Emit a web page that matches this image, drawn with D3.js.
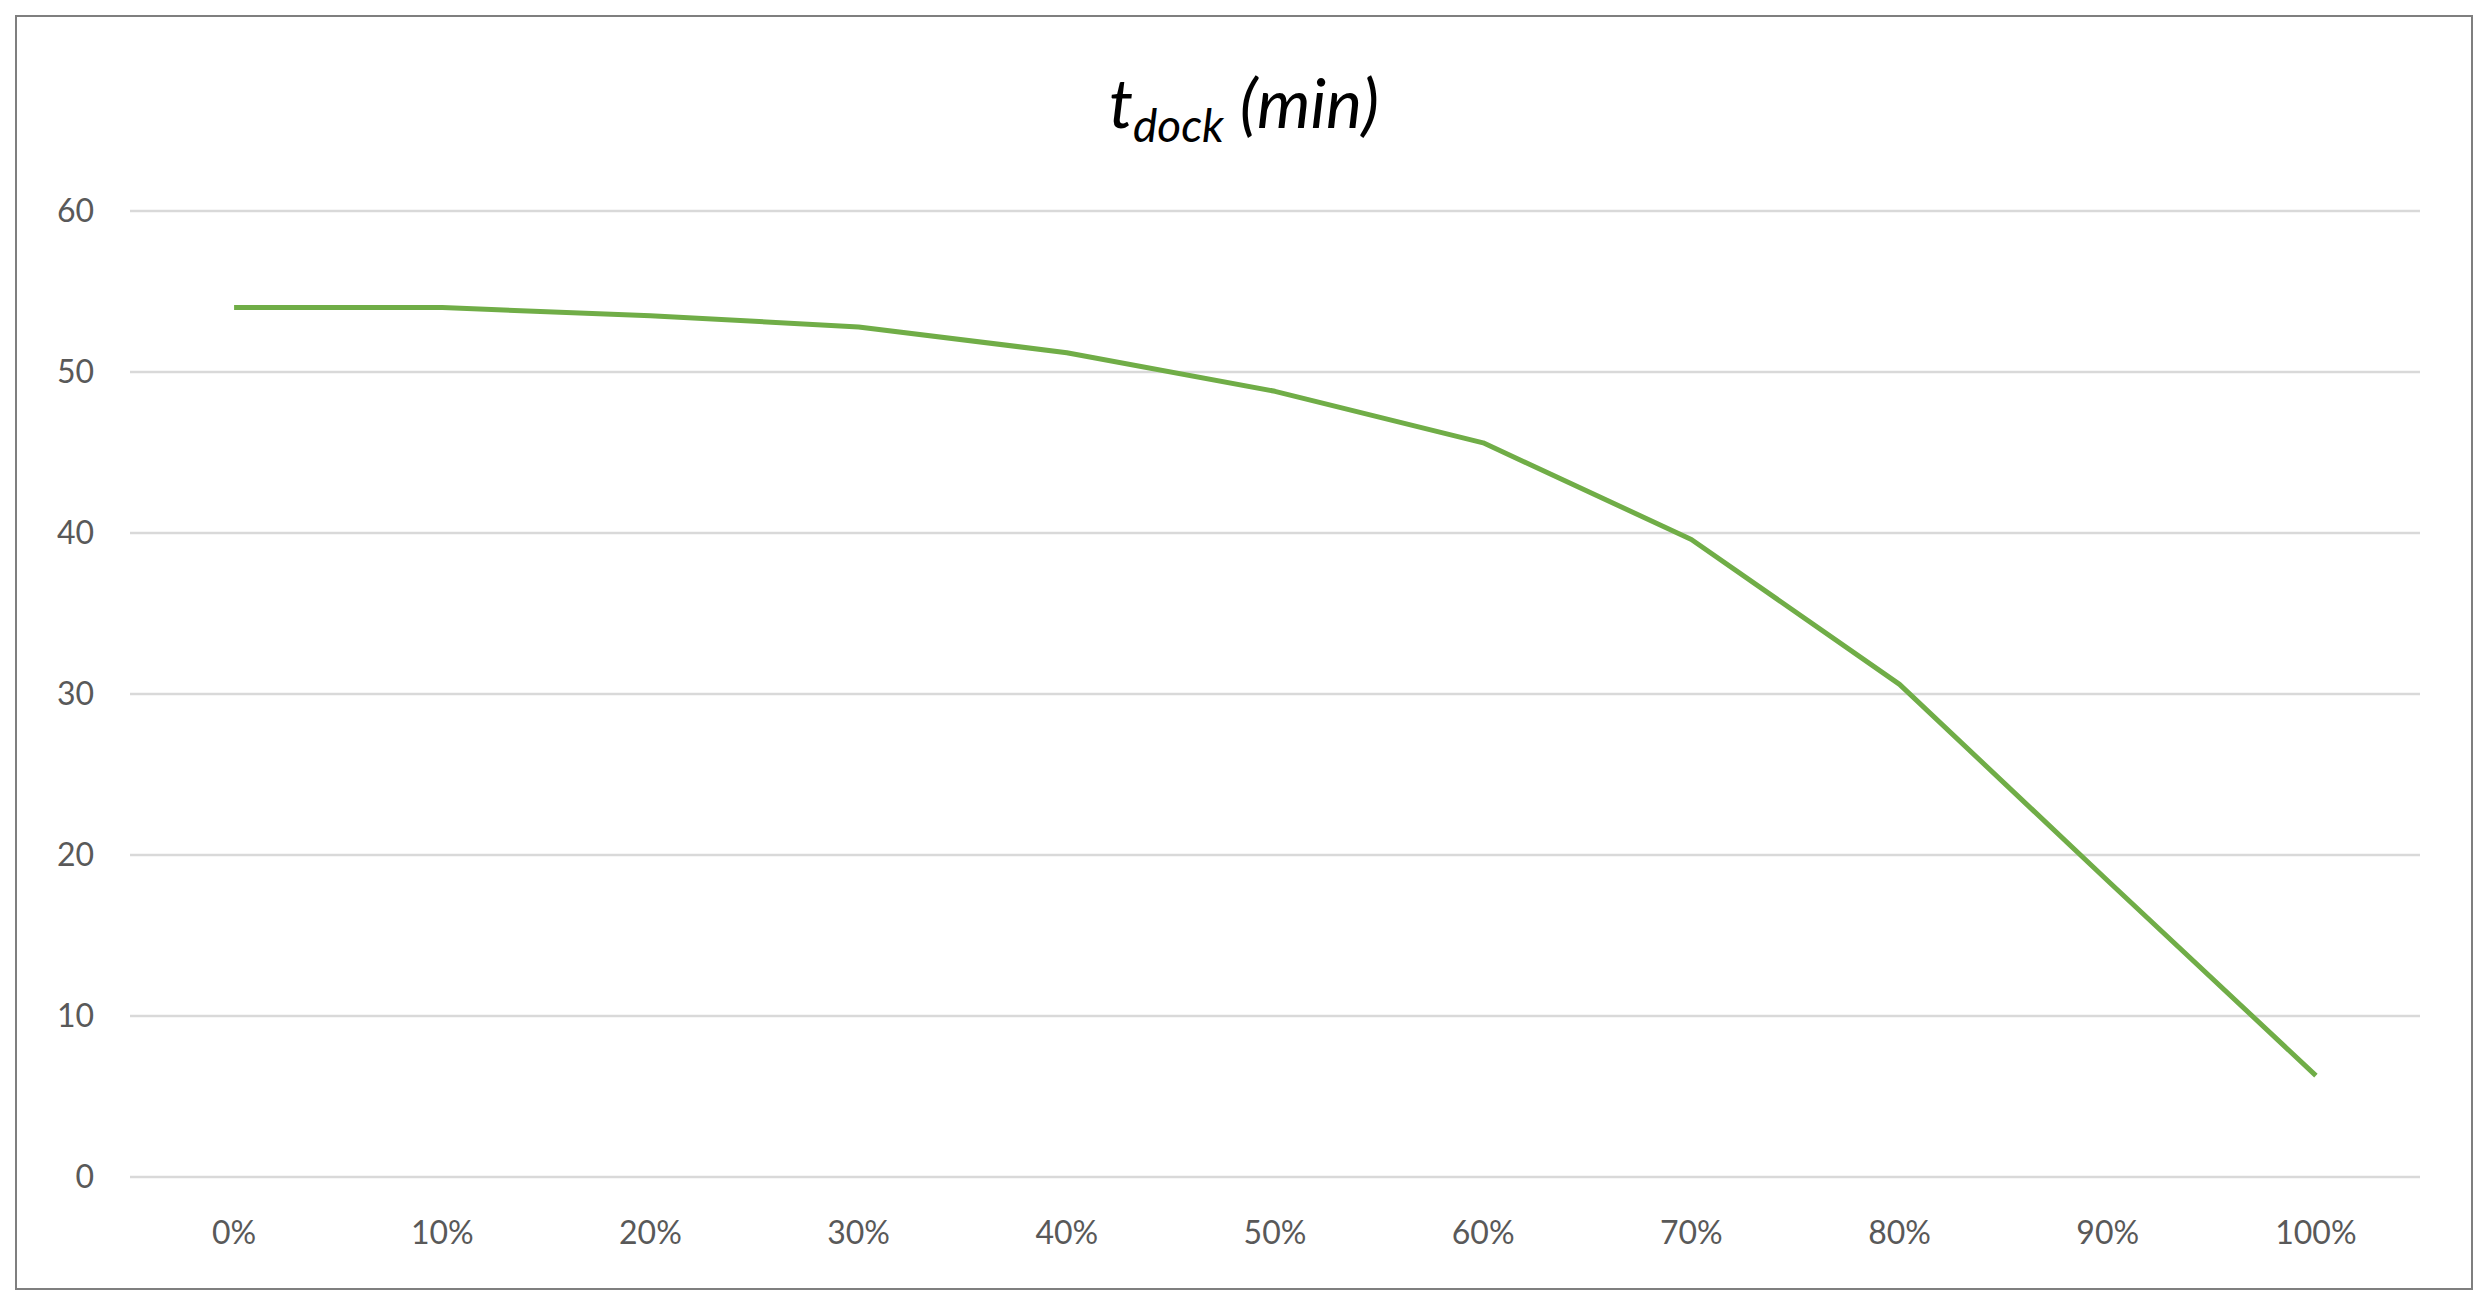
<!DOCTYPE html>
<html>
<head>
<meta charset="utf-8">
<script src="https://cdn.jsdelivr.net/npm/d3@7"></script>
<style>
  body { margin: 0; background: #fff; }
  svg { font-family: Lato, "Open Sans", sans-serif; }
</style>
</head>
<body>
<svg id="chart" width="2491" height="1314"></svg>
<script>
var categories = ['0%', '10%', '20%', '30%', '40%', '50%', '60%', '70%', '80%', '90%', '100%'];
var tdock = [54, 54, 53.5, 52.8, 51.2, 48.8, 45.6, 39.6, 30.6, 18.4, 6.3];
var yTicks = [0, 10, 20, 30, 40, 50, 60];

var svg = d3.select('#chart');

svg.append('rect')
  .attr('x', 16).attr('y', 16)
  .attr('width', 2456).attr('height', 1273)
  .attr('fill', '#fff').attr('stroke', '#7f7f7f').attr('stroke-width', 2);

var margin = { left: 130, right: 71, top: 211, bottom: 137 };
var x = d3.scaleBand().domain(categories).range([margin.left, 2491 - margin.right]);
var y = d3.scaleLinear().domain([0, 60]).range([1314 - margin.bottom, margin.top]);

// gridlines
svg.append('g').selectAll('line')
  .data(yTicks)
  .enter().append('line')
    .attr('x1', margin.left).attr('x2', 2491 - margin.right)
    .attr('y1', function(d) { return y(d); })
    .attr('y2', function(d) { return y(d); })
    .attr('stroke', '#d9d9d9').attr('stroke-width', 2.5);

// y labels
svg.append('g').selectAll('text')
  .data(yTicks)
  .enter().append('text')
    .attr('x', 94)
    .attr('y', function(d) { return y(d); })
    .attr('dy', '0.35em')
    .attr('text-anchor', 'end')
    .attr('font-size', 32)
    .attr('fill', '#595959')
    .text(function(d) { return d; });

// x labels
svg.append('g').selectAll('text')
  .data(categories)
  .enter().append('text')
    .attr('x', function(d) { return x(d) + x.bandwidth() / 2; })
    .attr('y', 1233)
    .attr('dy', '0.35em')
    .attr('text-anchor', 'middle')
    .attr('font-size', 32)
    .attr('fill', '#595959')
    .text(function(d) { return d; });

var line = d3.line()
  .x(function(d, i) { return x(categories[i]) + x.bandwidth() / 2; })
  .y(function(d) { return y(d); });

svg.append('path')
  .datum(tdock)
  .attr('d', line)
  .attr('fill', 'none')
  .attr('stroke', '#70ad47')
  .attr('stroke-width', 5)
  .attr('stroke-linejoin', 'round');

// title
var title = svg.append('text')
  .attr('x', 1244).attr('y', 128)
  .attr('text-anchor', 'middle')
  .attr('font-size', 68)
  .attr('font-style', 'italic')
  .attr('fill', '#000');
title.append('tspan').text('t');
title.append('tspan').attr('font-size', 46).attr('dy', 14).text('dock');
title.append('tspan').attr('dy', -14).text(' (min)');
</script>
</body>
</html>
